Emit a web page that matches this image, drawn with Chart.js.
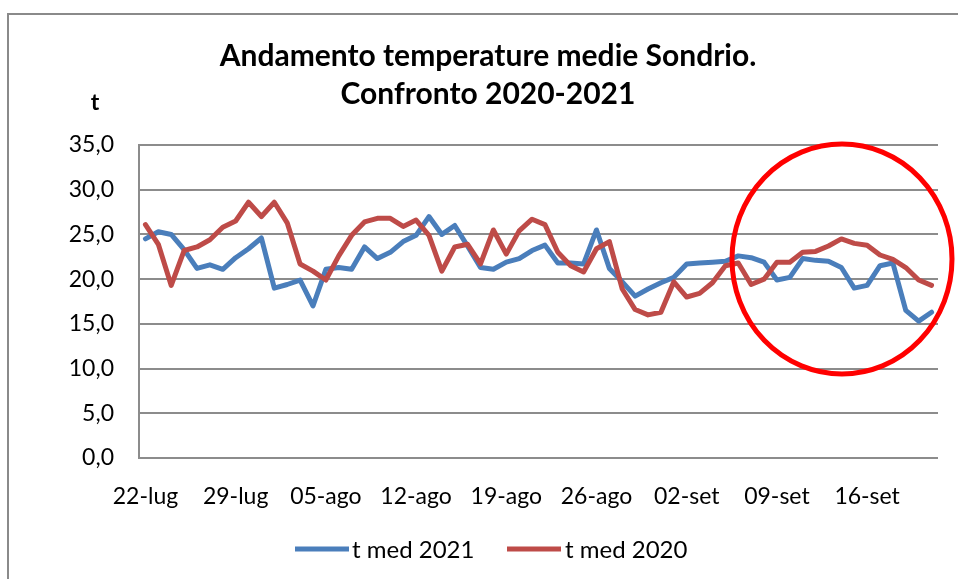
<!DOCTYPE html>
<html>
<head>
<meta charset="utf-8">
<script src="https://cdn.jsdelivr.net/npm/chart.js@4"></script>
<style>
  html, body { margin: 0; padding: 0; background: #fff; }
  #wrap { position: relative; width: 958px; height: 579px; }
  #frame { position: absolute; left: 7px; top: 13px; right: -4px; bottom: -4px; border-left: 2px solid #8a8a8a; border-top: 2px solid #8a8a8a; }
  canvas { position: absolute; left: 0; top: 0; }
</style>
</head>
<body>
<div id="wrap">
  <div id="frame"></div>
  <canvas id="c" width="958" height="579"></canvas>
</div>
<script>
// daily dates 22-lug .. 21-set
const days = [
  '22-lug','23-lug','24-lug','25-lug','26-lug','27-lug','28-lug','29-lug','30-lug','31-lug',
  '01-ago','02-ago','03-ago','04-ago','05-ago','06-ago','07-ago','08-ago','09-ago','10-ago',
  '11-ago','12-ago','13-ago','14-ago','15-ago','16-ago','17-ago','18-ago','19-ago','20-ago',
  '21-ago','22-ago','23-ago','24-ago','25-ago','26-ago','27-ago','28-ago','29-ago','30-ago',
  '31-ago','01-set','02-set','03-set','04-set','05-set','06-set','07-set','08-set','09-set',
  '10-set','11-set','12-set','13-set','14-set','15-set','16-set','17-set','18-set','19-set',
  '20-set','21-set'
];

const tMed2021 = [
  24.5, 25.3, 25.0, 23.3, 21.2, 21.6, 21.1, 22.4, 23.4, 24.6,
  19.0, 19.4, 19.9, 17.0, 21.1, 21.3, 21.1, 23.6, 22.3, 23.0,
  24.2, 24.9, 27.0, 25.0, 26.0, 23.7, 21.3, 21.1, 21.9, 22.3,
  23.2, 23.8, 21.8, 21.8, 21.7, 25.5, 21.2, 19.7, 18.1, 18.9,
  19.6, 20.2, 21.7, 21.8, 21.9, 22.0, 22.6, 22.4, 21.9, 19.9,
  20.2, 22.3, 22.1, 22.0, 21.3, 19.0, 19.3, 21.5, 21.8, 16.5,
  15.3, 16.3
];

const tMed2020 = [
  26.1, 23.9, 19.3, 23.2, 23.6, 24.4, 25.8, 26.5, 28.6, 27.0,
  28.6, 26.3, 21.7, 20.9, 19.9, 22.6, 24.9, 26.4, 26.8, 26.8,
  25.9, 26.6, 24.9, 20.9, 23.6, 23.9, 21.7, 25.5, 22.8, 25.4,
  26.7, 26.1, 23.0, 21.5, 20.8, 23.4, 24.2, 18.9, 16.6, 16.0,
  16.3, 19.7, 18.0, 18.4, 19.6, 21.5, 21.8, 19.4, 20.0, 21.9,
  21.9, 23.0, 23.1, 23.7, 24.5, 24.0, 23.8, 22.7, 22.2, 21.3,
  19.9, 19.3
];

const yTicks = [0, 5, 10, 15, 20, 25, 30, 35];
const labelEvery = 7;
const titleLines = ['Andamento temperature medie Sondrio.', 'Confronto 2020-2021'];

const BLUE = '#4A7EBB';
const RED = '#BE4B48';
const FONT = 'Lato, "Open Sans", sans-serif';

const extras = {
  id: 'extras',
  afterDraw(chart) {
    const ctx = chart.ctx;
    ctx.save();
    ctx.fillStyle = '#000';
    ctx.textBaseline = 'middle';
    // title
    ctx.font = 'bold 30px ' + FONT;
    ctx.textAlign = 'center';
    ctx.fillText(titleLines[0], 488, 56);
    ctx.fillText(titleLines[1], 488, 94);
    // axis name
    ctx.font = 'bold 23px ' + FONT;
    ctx.fillText('t', 95, 103);
    // legend
    ctx.font = '24px ' + FONT;
    ctx.textAlign = 'left';
    const items = [[295, 352], [507, 565]];
    chart.data.datasets.forEach((ds, i) => {
      const [lx, tx] = items[i];
      ctx.strokeStyle = ds.borderColor;
      ctx.lineWidth = 5;
      ctx.beginPath();
      ctx.moveTo(lx, 549);
      ctx.lineTo(lx + 54, 549);
      ctx.stroke();
      ctx.fillText(ds.label, tx, 550);
    });
    // red highlight ring
    ctx.strokeStyle = '#FF0000';
    ctx.lineWidth = 5;
    ctx.beginPath();
    ctx.ellipse(842, 259, 110, 115, 0, 0, Math.PI * 2);
    ctx.stroke();
    ctx.restore();
  }
};

new Chart(document.getElementById('c'), {
  type: 'line',
  data: {
    labels: days,
    datasets: [
      { label: 't med 2021', data: tMed2021, borderColor: BLUE, backgroundColor: BLUE, borderWidth: 5, pointRadius: 0, tension: 0, borderJoinStyle: 'round', borderCapStyle: 'round', order: 2 },
      { label: 't med 2020', data: tMed2020, borderColor: RED, backgroundColor: RED, borderWidth: 5, pointRadius: 0, tension: 0, borderJoinStyle: 'round', borderCapStyle: 'round', order: 1 }
    ]
  },
  options: {
    responsive: false,
    animation: false,
    layout: { padding: { left: 10, right: 20, top: 145, bottom: 59 } },
    plugins: {
      tooltip: { enabled: false },
      title: { display: false },
      legend: { display: false }
    },
    scales: {
      x: {
        offset: true,
        grid: { display: false },
        border: { display: false },
        ticks: {
          autoSkip: false,
          maxRotation: 0,
          color: '#000',
          font: { family: FONT, size: 23 },
          padding: 17,
          callback: (v, i) => (i % labelEvery === 0 ? days[i] : '')
        },
        afterFit: s => { s.height = 62; }
      },
      y: {
        min: 0,
        max: 35,
        afterBuildTicks: s => { s.ticks = yTicks.map(v => ({ value: v })); },
        grid: { color: '#8c8c8c', lineWidth: 2, drawTicks: false },
        border: { color: '#8c8c8c', width: 2 },
        ticks: {
          color: '#000',
          font: { family: FONT, size: 23 },
          padding: 25,
          callback: v => v.toFixed(1).replace('.', ',')
        },
        afterFit: s => { s.width = 129; }
      }
    }
  },
  plugins: [extras]
});
</script>
</body>
</html>
